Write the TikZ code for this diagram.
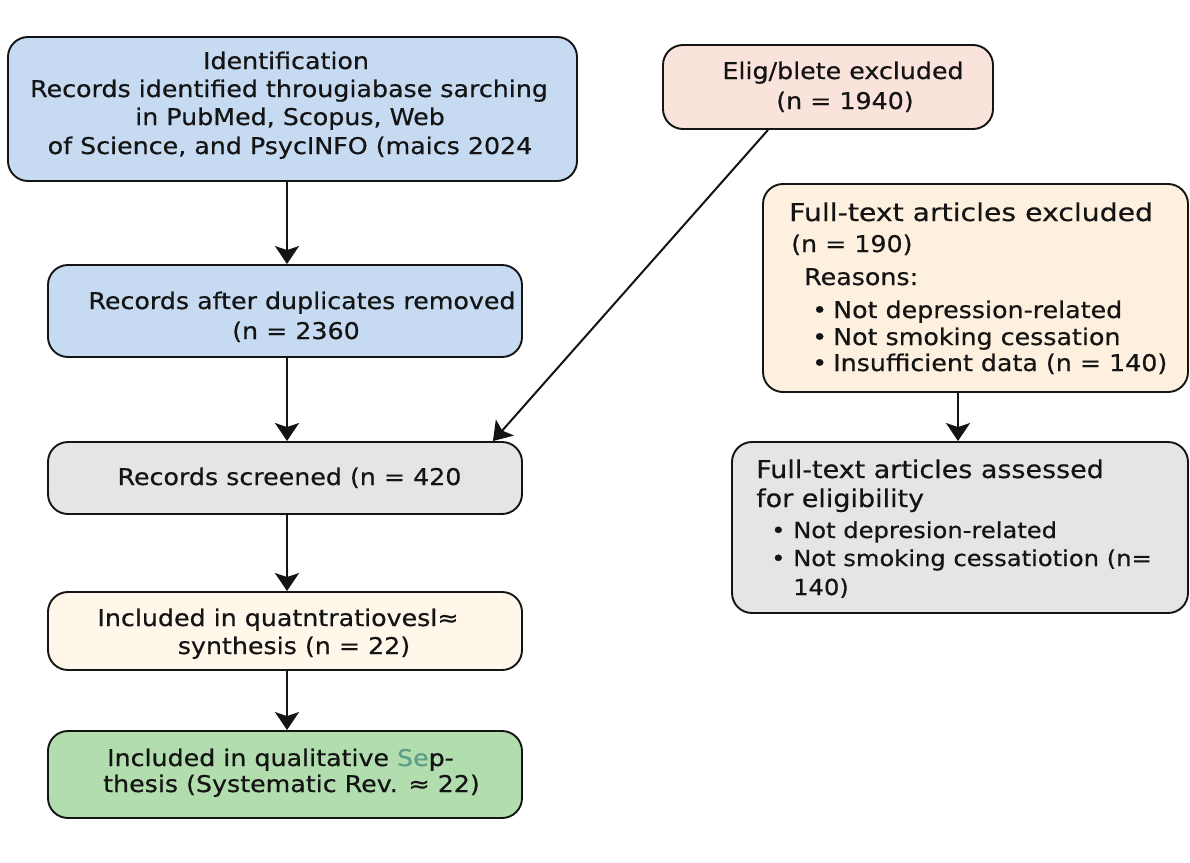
\documentclass[tikz,border=0pt]{standalone}
\usepackage{fontspec}
\usepackage{graphicx}
\setmainfont{DejaVu Sans}[FakeStretch=1.1,FakeBold=0.5]
\usetikzlibrary{arrows.meta,calc}
\definecolor{linec}{HTML}{141414}
\definecolor{textc}{HTML}{141414}
\definecolor{blueF}{HTML}{C6DBF1}
\definecolor{pinkF}{HTML}{F9E3DA}
\definecolor{creamF}{HTML}{FDF0DF}
\definecolor{grayF}{HTML}{E5E5E8}
\definecolor{lightF}{HTML}{FEF7EA}
\definecolor{greenF}{HTML}{B2DDAE}
\definecolor{sepgreen}{HTML}{5F9E86}
\newcommand\mysz{\fontsize{23}{28}\selectfont}
\newcommand\mybig{\fontsize{24.5}{28}\selectfont}
\newcommand\mysmall{\fontsize{22}{28}\selectfont}
\newcommand\bul{\makebox[21pt][l]{•}}
\begin{document}
\begin{tikzpicture}[x=1pt,y=-1pt,
  box/.style={draw=linec, line width=1.9pt, rounded corners=20pt, inner sep=0pt},
  txt/.style={inner sep=0pt, font=\mysz, text=textc, anchor=base},
  ltxt/.style={txt, anchor=base west},
  arr/.style={draw=linec, line width=2pt, -{Stealth[length=18pt,width=24pt,inset=4pt]}}]
\useasboundingbox (0,0) rectangle (1190,862);
\fill[white] (0,0) rectangle (1190,862);
% boxes
\node[box, fill=blueF, minimum width=569pt, minimum height=144pt] (ident) at (292.5,109) {};
\node[box, fill=pinkF, minimum width=330pt, minimum height=84pt] (elig) at (828,87) {};
\node[box, fill=creamF, minimum width=425pt, minimum height=208pt] (ftex) at (975.5,288) {};
\node[box, fill=grayF, minimum width=456pt, minimum height=171pt] (ftas) at (960,527.5) {};
\node[box, fill=blueF, minimum width=474pt, minimum height=92pt] (dup) at (285,311) {};
\node[box, fill=grayF, minimum width=474pt, minimum height=72pt] (scr) at (285,478) {};
\node[box, fill=lightF, minimum width=474pt, minimum height=78pt] (quant) at (285,631) {};
\node[box, fill=greenF, minimum width=474pt, minimum height=87pt] (qual) at (285,774.5) {};
% texts
\node[txt] (ident1) at (286,69) {Identification};
\node[txt] (ident2) at (289,97) {Records identified througiabase sarching};
\node[txt] (ident3) at (290,125) {in PubMed, Scopus, Web};
\node[txt] (ident4) at (290,154) {of Science, and PsycINFO (maics 2024};
\node[txt] (elig1) at (843,79) {Elig/blete excluded};
\node[txt] (elig2) at (845,109) {(n = 1940)};
\node[ltxt, font=\mybig] (ftex1) at (789,221) {\scalebox{1.05}[1]{Full-text articles excluded}};
\node[ltxt] (ftex2) at (791,252) {(n = 190)};
\node[ltxt] (ftex3) at (804,285) {Reasons:};
\node[ltxt] (ftex4) at (812,318) {\bul Not depression-related};
\node[ltxt] (ftex5) at (812,345) {\bul Not smoking cessation};
\node[ltxt] (ftex6) at (812,371) {\bul Insufficient data (n = 140)};
\node[ltxt, font=\mybig] (ftas1) at (756,478) {Full-text articles assessed};
\node[ltxt, font=\mybig] (ftas2) at (756,507) {for eligibility};
\node[ltxt, font=\mysmall] (ftas3) at (771,538) {\makebox[22pt][l]{•}Not depresion-related};
\node[ltxt, font=\mysmall] (ftas4) at (771,566) {\makebox[22pt][l]{•}Not smoking cessatiotion (n=};
\node[ltxt, font=\mysmall] (ftas5) at (793,595) {140)};
\node[txt] (dup1) at (302,309) {Records after duplicates removed};
\node[txt] (dup2) at (296,339) {(n = 2360};
\node[txt] (scr1) at (289.5,485) {Records screened (n = 420};
\node[txt] (quant1) at (278,626) {Included in quatntratiovesl≈};
\node[txt] (quant2) at (294,654) {synthesis (n = 22)};
\node[txt] (qual1) at (280.5,766) {Included in qualitative {\color{sepgreen}Se}p-};
\node[txt] (qual2) at (291.5,792) {thesis (Systematic Rev. ≈ 22)};
% connectors
\coordinate (a1) at ($(ident.south)+(-5.5,0)$);
\draw[arr] (a1) -- (a1 |- dup.north);
\coordinate (a2) at ($(dup.south)+(2,0)$);
\draw[arr] (a2) -- (a2 |- scr.north);
\coordinate (a3) at ($(scr.south)+(2,0)$);
\draw[arr] (a3) -- (a3 |- quant.north);
\coordinate (a4) at ($(quant.south)+(2,0)$);
\draw[arr] (a4) -- (a4 |- qual.north);
\coordinate (d1) at ($(elig.south)+(-60,0)$);
\coordinate (d2) at ($(scr.north east)+(-30,0)$);
\draw[arr] (d1) -- (d2);
\coordinate (b1) at ($(ftex.south)+(-17.5,0)$);
\draw[arr] (b1) -- (b1 |- ftas.north);
\end{tikzpicture}
\end{document}
